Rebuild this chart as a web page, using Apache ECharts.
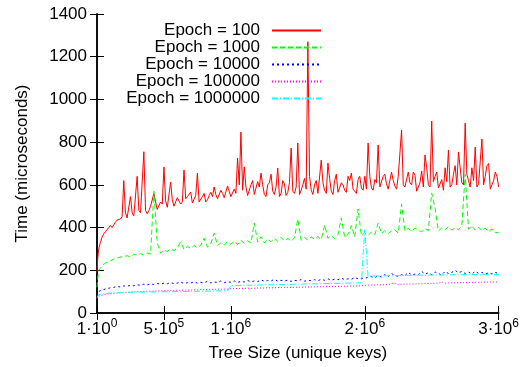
<!DOCTYPE html>
<html><head><meta charset="utf-8">
<script src="https://cdn.jsdelivr.net/npm/echarts@6/dist/echarts.min.js"></script>
<style>html,body{margin:0;padding:0;background:#fff}#c{width:522px;height:367px}</style>
</head><body><div id="c"></div>
<script>
// tree size sample points, in thousands of keys
const xsK = [0,5,10,15,
25,50,75,100,125,150,175,200,
225,250,275,300,325,350,375,400,
425,450,475,500,525,550,575,600,
625,650,675,700,725,750,775,800,
825,850,875,900,925,950,975,1000,
1025,1050,1075,1100,1125,1150,1175,1200,
1225,1250,1275,1300,1325,1350,1375,1400,
1425,1450,1475,1500,1525,1550,1575,1600,
1625,1650,1675,1700,1725,1750,1775,1800,
1825,1850,1875,1900,1925,1950,1975,2000,
2025,2050,2075,2100,2125,2150,2175,2200,
2225,2250,2275,2300,2325,2350,2375,2400,
2425,2450,2475,2500,2525,2550,2575,2600,
2625,2650,2675,2700,2725,2750,2775,2800,
2825,2850,2875,2900,2925,2950,2975,3000];

const epoch100 = [190,250,285,305,
330,370,390,410,405,435,440,620,
445,545,455,640,470,755,465,500,
560,485,520,684,495,613,500,540,
510,670,545,566,520,655,525,560,
530,565,590,535,575,540,595,545,
580,726,847,684,550,600,555,615,
655,555,600,650,555,679,560,605,
565,772,560,796,575,630,1270,575,
600,560,716,575,702,570,620,565,
610,575,640,655,570,625,585,640,
796,585,625,787,590,650,580,660,
595,640,857,590,660,600,645,590,
665,740,600,899,640,585,625,680,
763,600,690,754,610,889,620,680,
777,605,815,640,700,600,660,590];

// extra Epoch = 100 readings halfway between the points above (37.5k ... 2987.5k)
const xsMidK = [37.5,62.5,87.5,112.5,137.5,162.5,187.5,
212.5,237.5,262.5,287.5,312.5,337.5,362.5,387.5,
412.5,437.5,462.5,487.5,512.5,537.5,562.5,587.5,
612.5,637.5,662.5,687.5,712.5,737.5,762.5,787.5,
812.5,837.5,862.5,887.5,912.5,937.5,962.5,987.5,
1012.5,1037.5,1062.5,1087.5,1112.5,1137.5,1162.5,1187.5,
1212.5,1237.5,1262.5,1287.5,1312.5,1337.5,1362.5,1387.5,
1412.5,1437.5,1462.5,1487.5,1512.5,1537.5,1562.5,1587.5,
1612.5,1637.5,1662.5,1687.5,1712.5,1737.5,1762.5,1787.5,
1812.5,1837.5,1862.5,1887.5,1912.5,1937.5,1962.5,1987.5,
2012.5,2037.5,2062.5,2087.5,2112.5,2137.5,2162.5,2187.5,
2212.5,2237.5,2262.5,2287.5,2312.5,2337.5,2362.5,2387.5,
2412.5,2437.5,2462.5,2487.5,2512.5,2537.5,2562.5,2587.5,
2612.5,2637.5,2662.5,2687.5,2712.5,2737.5,2762.5,2787.5,
2812.5,2837.5,2862.5,2887.5,2912.5,2937.5,2962.5,2987.5];
const epoch100Mid = [355,380,400,400,425,430,450,
470,450,470,455,480,470,480,480,
495,520,490,510,525,500,530,505,
540,520,535,545,515,550,520,545,
520,550,545,555,530,560,535,570,
545,560,600,575,590,545,620,560,
590,600,545,610,570,590,545,620,
550,610,570,590,555,600,580,640,
555,620,565,610,560,630,555,650,
560,600,565,620,580,560,640,575,
580,640,575,610,590,640,605,575,
620,580,640,600,585,610,660,570,
610,590,680,590,615,660,590,575,
615,590,650,600,680,600,650,590,
620,590,610,600,690,580,620,640];

const epoch1000 = [120,160,185,200,
210,228,238,245,252,258,262,265,
268,262,276,270,278,272,282,276,
570,328,280,295,288,300,292,306,
332,298,312,302,316,306,318,350,
308,324,374,316,328,318,334,322,
336,320,340,326,338,328,421,332,
357,328,346,334,350,336,354,338,
350,336,352,440,340,354,342,356,
345,358,344,412,350,362,348,366,
445,354,368,410,356,487,362,376,
364,378,366,421,372,386,372,384,
390,374,510,384,396,382,398,388,
380,396,386,562,491,384,398,388,
404,388,400,390,406,650,392,408,
388,402,386,398,380,394,376,378];

const epoch10000 = [80,92,98,102,
106,110,114,118,120,124,122,127,
125,130,128,132,130,135,132,136,
134,138,135,140,137,142,138,140,
145,138,142,140,146,140,144,142,
148,141,145,143,150,142,146,144,
150,143,148,145,152,146,150,147,
155,148,152,150,158,149,153,150,
154,148,153,150,157,149,153,151,
156,151,158,153,160,154,158,156,
163,156,160,158,166,160,163,162,
168,170,165,175,168,180,170,185,
175,172,180,175,190,178,182,180,
195,182,188,180,192,185,178,195,
185,190,200,188,195,185,192,182,
195,186,190,182,188,183,190,185];

const epoch100000 = [68,74,78,80,
82,85,88,90,92,93,95,96,
97,98,99,100,100,101,102,102,
103,104,103,105,104,106,105,107,
106,108,107,108,109,108,110,109,
110,111,110,112,111,112,112,114,
114,115,115,115,116,116,116,117,
117,117,118,118,118,119,119,119,
120,120,120,121,121,121,122,122,
122,123,123,123,124,124,124,125,
125,125,126,126,126,127,127,130,
130,131,131,132,132,133,133,138,
140,134,134,135,135,136,136,137,
137,138,138,139,139,140,145,140,
141,141,142,142,142,143,143,143,
144,144,144,145,145,145,145,145];

const epoch1000000 = [72,80,84,86,
88,90,92,93,94,95,95,96,
96,97,97,98,97,98,98,99,
98,99,99,100,99,100,100,101,
100,101,101,102,101,102,102,103,
102,103,103,104,103,104,104,128,
128,129,129,130,130,130,131,131,
131,132,132,132,133,133,133,134,
134,134,135,135,135,136,136,136,
137,137,137,138,138,138,139,139,
139,140,140,140,141,141,141,390,
172,172,173,173,173,174,174,174,
175,175,175,176,176,176,176,177,
177,177,177,178,178,178,178,178,
179,179,179,179,179,180,180,180,
180,180,180,181,181,181,181,181];

const seriesNames = ['Epoch = 100','Epoch = 1000','Epoch = 10000','Epoch = 100000','Epoch = 1000000'];
const seriesValues = [epoch100, epoch1000, epoch10000, epoch100000, epoch1000000];
const xTickValues = [0, 500000, 1000000, 2000000, 3000000];
const xTickLabels = {0:['1·10','0'], 500000:['5·10','5'], 1000000:['1·10','6'], 2000000:['2·10','6'], 3000000:['3·10','6']};

const colors = ['#ff0000','#00ff00','#0000ff','#ff00ff','#00ffff'];
const dashes = ['solid',[5,3],[2,3],[1,2],[6,2,1,2]];
const FONT = 'Liberation Sans';
const FS = 17;

function seriesData(k){
  const pts = xsK.map((x,i)=>[x*1000, seriesValues[k][i]]);
  if (k === 0) {
    xsMidK.forEach((x,i)=>pts.push([x*1000, epoch100Mid[i]]));
    pts.sort((a,b)=>a[0]-b[0]);
  }
  return pts;
}

const chart = echarts.init(document.getElementById('c'), null, {renderer:'canvas'});
const axisCommon = {
  axisLine:{show:true,lineStyle:{color:'#000',width:1.5}},
  splitLine:{show:false},
};
chart.setOption({
  animation:false,
  backgroundColor:'#fff',
  textStyle:{fontFamily:FONT},
  grid:{left:97,right:22,top:14,bottom:54,containLabel:false},
  legend:{
    orient:'vertical', align:'right', right:200, top:22, padding:0,
    itemWidth:49, itemHeight:14, itemGap:0,
    itemStyle:{opacity:0},
    textStyle:{fontFamily:FONT,fontSize:FS,color:'#000',lineHeight:17,padding:[0,7,0,0]},
    data:seriesNames
  },
  xAxis:[{
    type:'value', min:0, max:3000000, position:'bottom',
    name:'Tree Size (unique keys)', nameLocation:'middle', nameGap:32,
    nameTextStyle:{fontFamily:FONT,fontSize:FS,color:'#000'},
    ...axisCommon,
    axisTick:{show:true,inside:true,length:7,lineStyle:{color:'#000',width:1},customValues:xTickValues},
    axisLabel:{show:true,margin:5,color:'#000',customValues:xTickValues,
      formatter:(v)=>{const t=xTickLabels[v]; return t?('{b|'+t[0]+'}{s|'+t[1]+'}'):'';},
      rich:{b:{fontFamily:FONT,fontSize:FS,lineHeight:22,color:'#000'},
            s:{fontFamily:FONT,fontSize:12,verticalAlign:'top',color:'#000'}}}
  },{
    type:'value', min:0, max:3000000, position:'top',
    ...axisCommon,
    axisTick:{show:true,inside:true,length:7,lineStyle:{color:'#000',width:1},customValues:xTickValues},
    axisLabel:{show:false}
  }],
  yAxis:[{
    type:'value', min:0, max:1400, interval:200, position:'left',
    name:'Time (microseconds)', nameLocation:'middle', nameGap:66,
    nameTextStyle:{fontFamily:FONT,fontSize:FS,color:'#000'},
    ...axisCommon,
    axisTick:{show:true,inside:true,length:7,lineStyle:{color:'#000',width:1}},
    axisLabel:{show:true,margin:10,fontFamily:FONT,fontSize:FS,color:'#000',formatter:(v)=>String(v)}
  },{
    type:'value', min:0, max:1400, interval:200, position:'right',
    ...axisCommon,
    axisTick:{show:true,inside:true,length:7,lineStyle:{color:'#000',width:1}},
    axisLabel:{show:false}
  }],
  series: seriesNames.map((n,k)=>({
    name:n, type:'line', xAxisIndex:0, yAxisIndex:0,
    symbol:'none', showSymbol:false, smooth:false,
    lineStyle:{color:colors[k],width:1,type:dashes[k]},
    itemStyle:{color:colors[k]},
    data: seriesData(k)
  }))
});
</script></body></html>
